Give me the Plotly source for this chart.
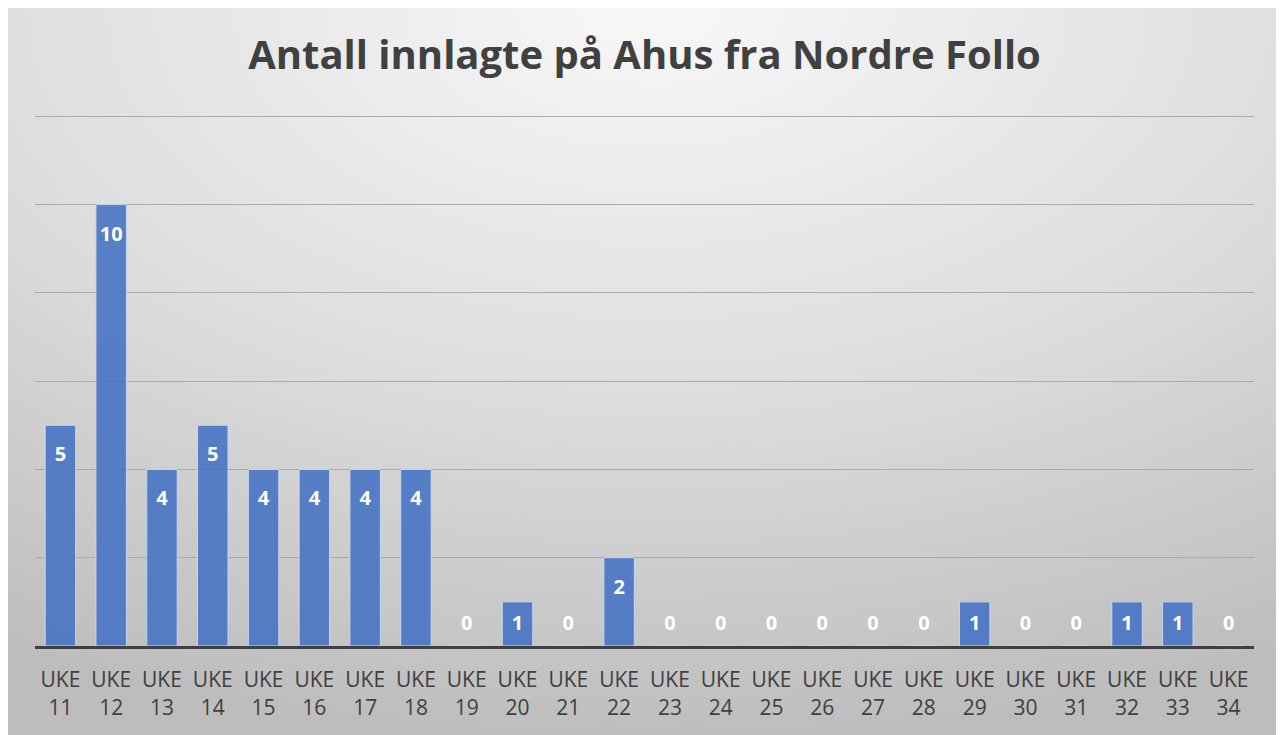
import base64

import plotly.graph_objects as go

# Data
weeks = [f"UKE<br>{w}" for w in range(11, 35)]
admitted = [5, 10, 4, 5, 4, 4, 4, 4, 0, 1, 0, 2, 0, 0, 0, 0, 0, 0, 1, 0, 0, 1, 1, 0]

TITLE = "Antall innlagte på Ahus fra Nordre Follo"
FONT = "Open Sans, Noto Sans, sans-serif"

# the page body adds an 8px offset, so margins are shifted to compensate
W, H = 1284, 735
L, R, T, B = 27, 38, 107, 97

# soft radial grey backdrop, like the Office chart style
svg = f"""<svg xmlns='http://www.w3.org/2000/svg' width='{W}' height='{H}'>
<defs><radialGradient id='g' cx='50%' cy='0%' r='100%' fx='50%' fy='0%'>
<stop offset='0' stop-color='#f8f8f8'/><stop offset='0.55' stop-color='#dcdcdc'/>
<stop offset='1' stop-color='#bdbdbd'/></radialGradient></defs>
<rect width='100%' height='100%' fill='url(#g)'/></svg>"""
bg_src = "data:image/svg+xml;base64," + base64.b64encode(svg.encode()).decode()

pw, ph = W - L - R, H - T - B

# label positions: just under the bar top, small bars keep it near the axis
label_y = [max(v - 0.7, 0.48) for v in admitted]

fig = go.Figure()
fig.add_trace(go.Bar(
    x=weeks,
    y=admitted,
    marker=dict(color="rgba(68,114,196,0.88)", line=dict(color="#c9d6ee", width=1)),
    width=0.6,
    hoverinfo="x+y",
))
fig.add_trace(go.Scatter(
    x=weeks,
    y=label_y,
    mode="text",
    text=[str(v) for v in admitted],
    textfont=dict(family=FONT, size=20, color="white", weight="bold"),
    cliponaxis=False,
    hoverinfo="skip",
))

fig.update_layout(
    width=W,
    height=H,
    margin=dict(l=L, r=R, t=T, b=B),
    paper_bgcolor="white",
    plot_bgcolor="rgba(0,0,0,0)",
    showlegend=False,
    title=dict(
        text=TITLE,
        x=0.5,
        xref="paper",
        y=1 - 47 / H,
        yanchor="middle",
        font=dict(family=FONT, size=40, color="#404040", weight="bold"),
    ),
    font=dict(family=FONT),
    images=[dict(
        source=bg_src,
        xref="paper", yref="paper",
        x=-L / pw, y=(H - B) / ph,
        sizex=W / pw, sizey=H / ph,
        sizing="stretch", layer="below",
    )],
)

fig.update_xaxes(
    range=[-0.5, len(weeks) - 0.5],
    showline=True,
    linecolor="#404040",
    linewidth=3,
    showgrid=False,
    ticks="",
    tickangle=0,
    tickfont=dict(family=FONT, size=21, color="#404040"),
    ticklabelstandoff=13,
)
fig.update_yaxes(
    range=[0, 12.03],
    dtick=2,
    showticklabels=False,
    gridcolor="#ababab",
    gridwidth=1,
    zeroline=False,
)

fig.write_html("out.html")
